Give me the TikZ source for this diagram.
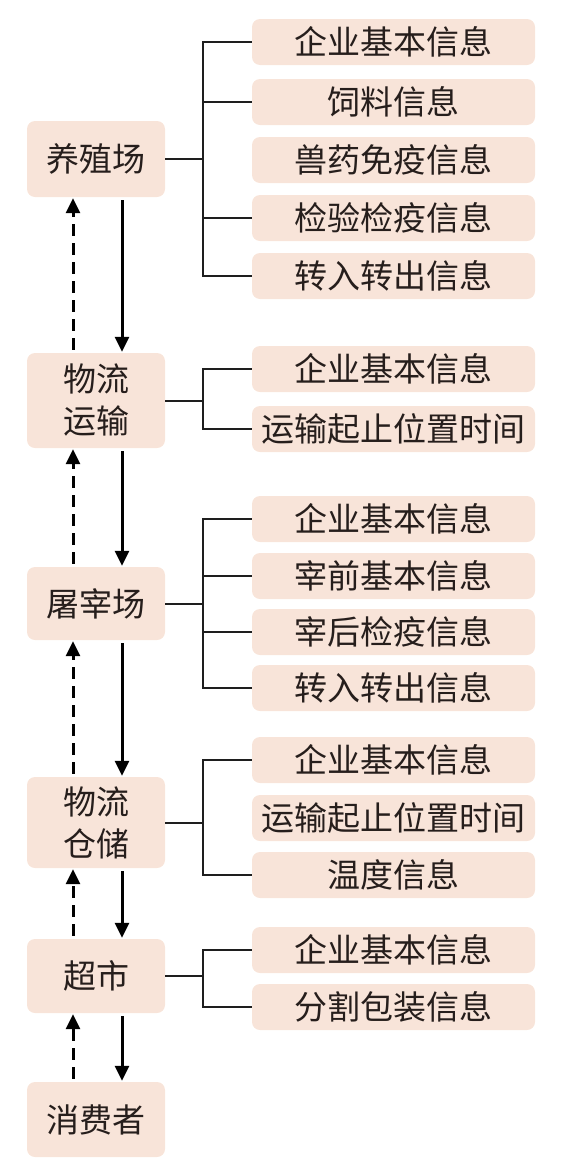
\documentclass[tikz,border=0pt]{standalone}
\usepackage{fontspec}
\newfontfamily\cjk{Noto Sans CJK SC}
\usepackage{xcolor}
\usepackage{tikz}
\usetikzlibrary{arrows.meta}

\definecolor{boxfill}{RGB}{248,228,217}
\definecolor{txt}{RGB}{38,30,28}
\definecolor{linec}{RGB}{30,30,30}

\begin{document}
\begin{tikzpicture}[x=1pt,y=-1pt,
  stage/.style={fill=boxfill,rounded corners=8pt,minimum width=138pt,text=txt,
    font=\cjk\fontsize{33}{42}\selectfont,align=center,inner sep=0pt},
  info/.style={stage,minimum width=283pt,minimum height=46pt},
  link/.style={line width=2pt,draw=linec},
  flow/.style={line width=3pt,-{Triangle[length=15pt,width=14pt]},shorten <=3pt,shorten >=1pt},
  back/.style={flow,dash pattern=on 12pt off 7pt}]
\useasboundingbox (0,0) rectangle (560,1173);
%Stages
\node[stage,minimum height=76pt] (farm) at (96,159) {养殖场};
\node[stage,minimum height=95pt] (trans) at (96,400.5) {物流\\运输};
\node[stage,minimum height=73pt] (slaughter) at (96,603.5) {屠宰场};
\node[stage,minimum height=91pt] (store) at (96,822.5) {物流\\仓储};
\node[stage,minimum height=74pt] (market) at (96,976) {超市};
\node[stage,minimum height=75pt] (consumer) at (96,1119.5) {消费者};
%Info
\node[info] (farm1) at (393.5,42) {企业基本信息};
\node[info] (farm2) at (393.5,102) {饲料信息};
\node[info] (farm3) at (393.5,160) {兽药免疫信息};
\node[info] (farm4) at (393.5,218) {检验检疫信息};
\node[info] (farm5) at (393.5,276) {转入转出信息};
\node[info] (trans1) at (393.5,369) {企业基本信息};
\node[info] (trans2) at (393.5,429) {运输起止位置时间};
\node[info] (slaughter1) at (393.5,519) {企业基本信息};
\node[info] (slaughter2) at (393.5,576) {宰前基本信息};
\node[info] (slaughter3) at (393.5,632) {宰后检疫信息};
\node[info] (slaughter4) at (393.5,688) {转入转出信息};
\node[info] (store1) at (393.5,760) {企业基本信息};
\node[info] (store2) at (393.5,818) {运输起止位置时间};
\node[info] (store3) at (393.5,875) {温度信息};
\node[info] (market1) at (393.5,950) {企业基本信息};
\node[info] (market2) at (393.5,1007) {分割包装信息};
%Brackets
\foreach \b in {farm1,farm2,farm4,farm5}
  \draw[link] (farm.east) -- ++(38,0) |- (\b.west);
\foreach \b in {trans1,trans2}
  \draw[link] (trans.east) -- ++(38,0) |- (\b.west);
\foreach \b in {slaughter1,slaughter2,slaughter3,slaughter4}
  \draw[link] (slaughter.east) -- ++(38,0) |- (\b.west);
\foreach \b in {store1,store3}
  \draw[link] (store.east) -- ++(38,0) |- (\b.west);
\foreach \b in {market1,market2}
  \draw[link] (market.east) -- ++(38,0) |- (\b.west);
%Flow
\foreach \a/\b in {farm/trans,trans/slaughter,slaughter/store,store/market,market/consumer}{
  \draw[flow] ([xshift=26pt]\a.south) -- ([xshift=26pt]\b.north);
  \draw[back] ([xshift=-23pt]\b.north) -- ([xshift=-23pt]\a.south);
}
\end{tikzpicture}
\end{document}
